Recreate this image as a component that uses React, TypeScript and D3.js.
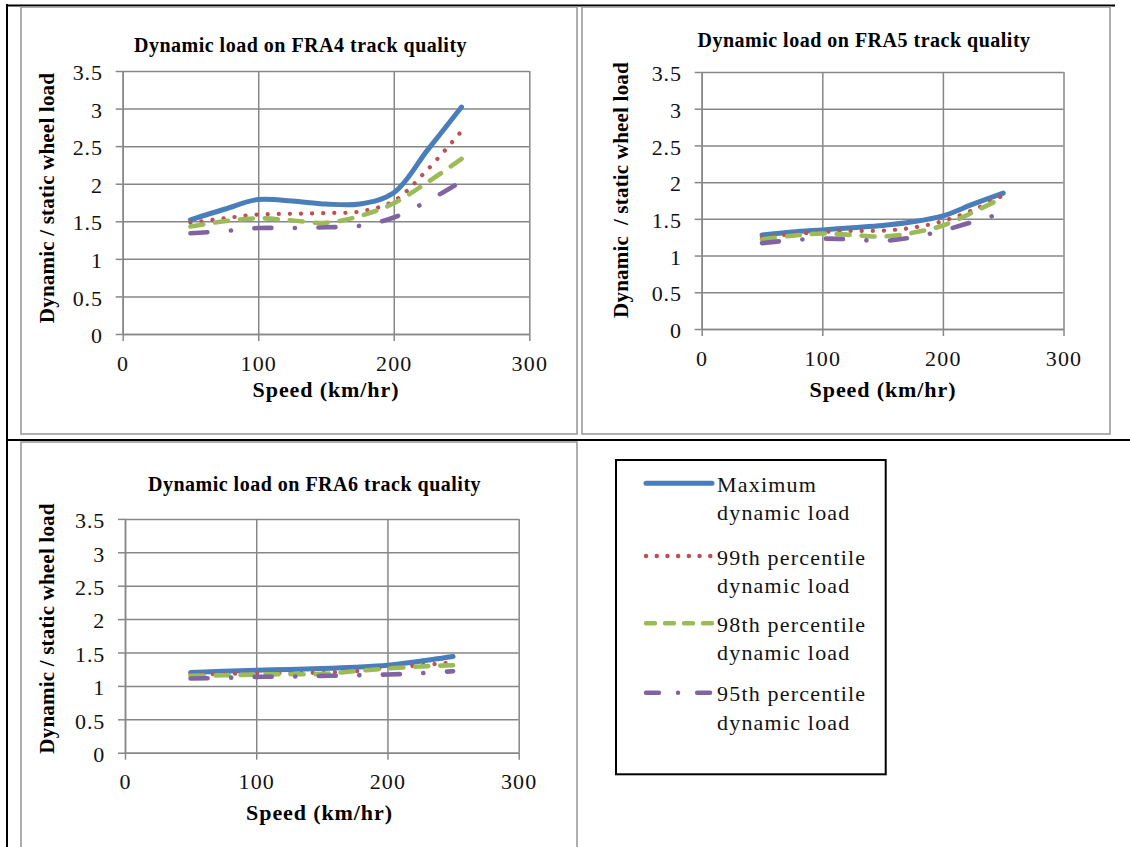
import React, { useEffect, useRef } from 'react';
import * as d3 from 'd3';

// speed (km/hr) where the curves were read
const speeds = [50, 75, 100, 125, 150, 175, 200, 225, 250];

const xTicks = [0, 100, 200, 300];
const yTicks = [0, 0.5, 1, 1.5, 2, 2.5, 3, 3.5];

// FRA4
const fra4Max = [1.52, 1.66, 1.79, 1.77, 1.73, 1.73, 1.88, 2.45, 3.02];
const fra4P99 = [1.48, 1.54, 1.59, 1.6, 1.61, 1.63, 1.77, 2.19, 2.7];
const fra4P98 = [1.43, 1.5, 1.54, 1.51, 1.48, 1.57, 1.74, 2.02, 2.33];
const fra4P95 = [1.34, 1.37, 1.41, 1.41, 1.42, 1.44, 1.55, 1.77, 2.03];

// FRA5
const fra5Max = [1.28, 1.32, 1.35, 1.38, 1.41, 1.46, 1.54, 1.7, 1.85];
const fra5P99 = [1.25, 1.29, 1.32, 1.335, 1.34, 1.38, 1.47, 1.62, 1.82];
const fra5P98 = [1.22, 1.27, 1.3, 1.28, 1.26, 1.31, 1.41, 1.59, 1.79];
const fra5P95 = [1.17, 1.21, 1.23, 1.22, 1.2, 1.25, 1.34, 1.46, 1.58];

// FRA6
const fra6Max = [1.2, 1.22, 1.235, 1.245, 1.26, 1.28, 1.31, 1.37, 1.44];
const fra6P99 = [1.17, 1.18, 1.19, 1.19, 1.2, 1.22, 1.27, 1.31, 1.35];
const fra6P98 = [1.15, 1.16, 1.17, 1.175, 1.18, 1.22, 1.26, 1.29, 1.31];
const fra6P95 = [1.11, 1.12, 1.135, 1.14, 1.15, 1.16, 1.17, 1.19, 1.22];

const legendLabels = [
  ['Maximum', 'dynamic load'],
  ['99th percentile', 'dynamic load'],
  ['98th percentile', 'dynamic load'],
  ['95th percentile', 'dynamic load'],
];

const SERIF = '"Liberation Serif", "Times New Roman", serif';
const GRID = '#878787';

// stroke look of each series: chart pattern and the shorter legend pattern
const styles = [
  { color: '#4A7EBB', width: 5, dash: null, legendDash: null },
  { color: '#C0504D', width: 4.2, dash: '0.1 11', legendDash: '0.1 10.6' },
  { color: '#9BBB59', width: 4.6, dash: '13 12', legendDash: '9 10' },
  { color: '#8064A2', width: 4.6, dash: '17 23.5 0.1 23.5', legendDash: '13 19 0.1 19' },
];

const charts = [
  {
    title: 'Dynamic load on FRA4 track quality',
    yLabel: 'Dynamic / static wheel load',
    series: [fra4Max, fra4P99, fra4P98, fra4P95],
    border: { x: 21, y: 7, w: 556, h: 427 },
    plot: { left: 122.7, right: 529.3, top: 71, bottom: 334 },
    titlePos: [300.5, 52],
    xTitlePos: [326, 397],
    yTitlePos: [47, 198],
  },
  {
    title: 'Dynamic load on FRA5 track quality',
    yLabel: 'Dynamic\u00a0 / static wheel load',
    series: [fra5Max, fra5P99, fra5P98, fra5P95],
    border: { x: 582, y: 7, w: 528, h: 427 },
    plot: { left: 701.7, right: 1063.5, top: 72, bottom: 329 },
    titlePos: [864, 47],
    xTitlePos: [883, 397],
    yTitlePos: [621, 190],
  },
  {
    title: 'Dynamic load on FRA6 track quality',
    yLabel: 'Dynamic / static wheel load',
    series: [fra6Max, fra6P99, fra6P98, fra6P95],
    border: { x: 21, y: 442, w: 556, h: 430 },
    plot: { left: 125, right: 518.7, top: 518.9, bottom: 752.7 },
    titlePos: [314.5, 491],
    xTitlePos: [319.5, 820],
    yTitlePos: [47, 628.5],
  },
];

export default function App() {
  const ref = useRef<SVGSVGElement>(null);

  useEffect(() => {
    const svg = d3.select(ref.current);
    svg.selectAll('*').remove();

    // table rules of the page
    const rule = (x1: number, y1: number, x2: number, y2: number) =>
      svg.append('line').attr('x1', x1).attr('y1', y1).attr('x2', x2).attr('y2', y2)
        .attr('stroke', '#000').attr('stroke-width', 2);
    rule(7, 4, 7, 847);
    rule(6, 5.5, 1115, 5.5);
    rule(6, 440, 1130, 440);

    charts.forEach((c) => {
      const g = svg.append('g');
      g.append('rect')
        .attr('x', c.border.x).attr('y', c.border.y)
        .attr('width', c.border.w).attr('height', c.border.h)
        .attr('fill', 'none').attr('stroke', '#9a9a9a').attr('stroke-width', 1.6);

      const x = d3.scaleLinear().domain([0, 300]).range([c.plot.left, c.plot.right]);
      const y = d3.scaleLinear().domain([0, 3.5]).range([c.plot.bottom, c.plot.top]);
      const w = c.plot.right - c.plot.left;
      const h = c.plot.bottom - c.plot.top;

      // gridlines
      const gy = g.append('g').attr('transform', `translate(${c.plot.left},0)`)
        .call(d3.axisLeft(y).tickValues(yTicks).tickSize(-w).tickFormat(() => ''));
      gy.select('.domain').remove();
      gy.selectAll('line').attr('stroke', GRID).attr('stroke-width', 1.5);
      const gx = g.append('g').attr('transform', `translate(0,${c.plot.bottom})`)
        .call(d3.axisBottom(x).tickValues(xTicks).tickSize(-h).tickFormat(() => ''));
      gx.select('.domain').remove();
      gx.selectAll('line').attr('stroke', GRID).attr('stroke-width', 1.5);

      // axes with outside ticks and labels
      const ay = g.append('g').attr('transform', `translate(${c.plot.left},0)`)
        .call(d3.axisLeft(y).tickValues(yTicks).tickSize(7).tickSizeOuter(0).tickFormat((d) => String(d)));
      ay.select('.domain').attr('stroke', GRID).attr('stroke-width', 1.5);
      ay.selectAll('line').attr('stroke', GRID).attr('stroke-width', 1.5);
      ay.selectAll('text')
        .attr('x', -20).attr('dy', '0.35em').attr('y', 1)
        .attr('font-family', SERIF).attr('font-size', 22).attr('letter-spacing', 0.8)
        .attr('fill', '#111');

      const ax = g.append('g').attr('transform', `translate(0,${c.plot.bottom})`)
        .call(d3.axisBottom(x).tickValues(xTicks).tickSize(7).tickSizeOuter(0).tickFormat((d) => String(d)));
      ax.select('.domain').attr('stroke', GRID).attr('stroke-width', 1.5);
      ax.selectAll('line').attr('stroke', GRID).attr('stroke-width', 1.5);
      ax.selectAll('text')
        .attr('y', 29).attr('dy', '0.35em')
        .attr('font-family', SERIF).attr('font-size', 22).attr('letter-spacing', 1.2)
        .attr('fill', '#111');

      // titles
      g.append('text').text(c.title)
        .attr('x', c.titlePos[0]).attr('y', c.titlePos[1])
        .attr('text-anchor', 'middle').attr('font-family', SERIF)
        .attr('font-weight', 'bold').attr('font-size', 20).attr('letter-spacing', 0.5);
      g.append('text').text('Speed (km/hr)')
        .attr('x', c.xTitlePos[0]).attr('y', c.xTitlePos[1])
        .attr('text-anchor', 'middle').attr('font-family', SERIF)
        .attr('font-weight', 'bold').attr('font-size', 22).attr('letter-spacing', 0.9);
      g.append('text').text(c.yLabel)
        .attr('transform', `translate(${c.yTitlePos[0]},${c.yTitlePos[1]}) rotate(-90)`)
        .attr('text-anchor', 'middle').attr('dy', '0.35em').attr('font-family', SERIF)
        .attr('font-weight', 'bold').attr('font-size', 21).attr('letter-spacing', 0.2);

      // series
      const line = d3.line<number>()
        .x((_, i) => x(speeds[i]))
        .y((d) => y(d))
        .curve(d3.curveCatmullRom.alpha(0.5));
      c.series.forEach((vals, k) => {
        const s = styles[k];
        g.append('path').datum(vals)
          .attr('d', line)
          .attr('fill', 'none')
          .attr('stroke', s.color)
          .attr('stroke-width', s.width)
          .attr('stroke-linecap', 'round')
          .attr('stroke-linejoin', 'round')
          .attr('stroke-dasharray', s.dash);
      });
    });

    // legend
    const lg = svg.append('g');
    lg.append('rect').attr('x', 616).attr('y', 460).attr('width', 269.7).attr('height', 314.3)
      .attr('fill', 'none').attr('stroke', '#000').attr('stroke-width', 2);
    const rowY = [483.3, 556, 623.3, 692.7];
    legendLabels.forEach((lines, k) => {
      const s = styles[k];
      lg.append('line')
        .attr('x1', 646).attr('x2', 712).attr('y1', rowY[k]).attr('y2', rowY[k])
        .attr('stroke', s.color).attr('stroke-width', k === 0 ? 5 : 4.4)
        .attr('stroke-linecap', 'round')
        .attr('stroke-dasharray', s.legendDash);
      lines.forEach((t, j) => {
        lg.append('text').text(t)
          .attr('x', 717).attr('y', rowY[k] + 8.5 + j * 28.4)
          .attr('font-family', SERIF).attr('font-size', 22).attr('letter-spacing', 1.2)
          .attr('fill', '#111');
      });
    });
  }, []);

  return (
    <svg
      ref={ref}
      width={1130}
      height={847}
      style={{ position: 'absolute', left: 0, top: 0, background: '#fff' }}
    />
  );
}
